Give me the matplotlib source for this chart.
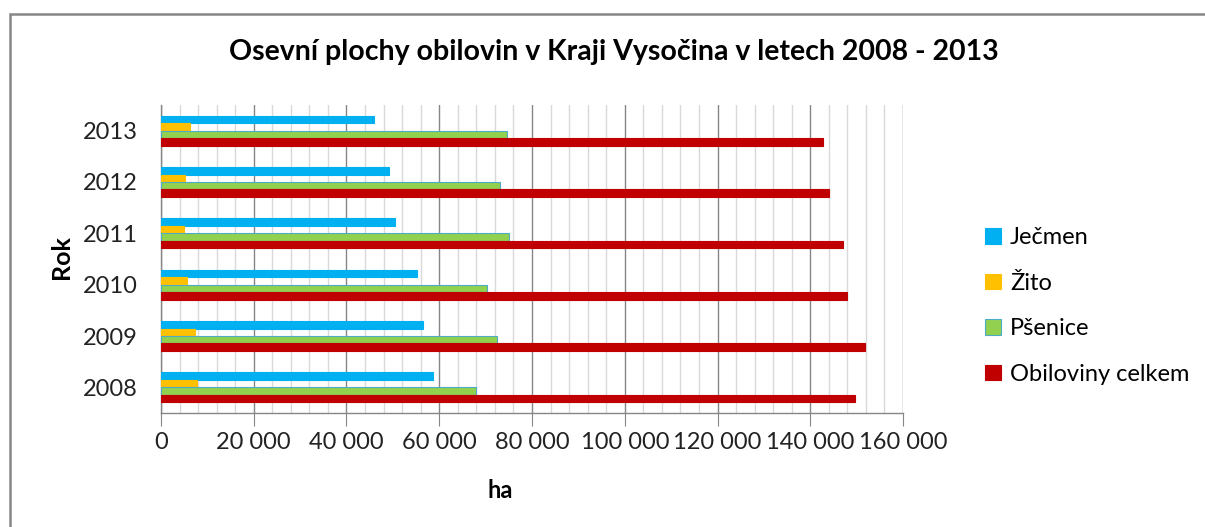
import matplotlib.pyplot as plt
import numpy as np
from matplotlib.patches import Rectangle
from matplotlib.ticker import FuncFormatter, MultipleLocator

plt.rcParams["font.family"] = ["Lato", "DejaVu Sans"]

years = ["2008", "2009", "2010", "2011", "2012", "2013"]
jecmen = [58600, 56500, 55100, 50500, 49100, 45900]
zito = [7700, 7300, 5700, 4900, 5200, 6300]
psenice = [68000, 72400, 70300, 75100, 73200, 74600]
celkem = [149600, 151900, 147900, 147000, 144000, 142700]

series = [
    ("Ječmen", jecmen, "#00B0F0", "#00B0F0"),
    ("Žito", zito, "#FFC000", "#FFC000"),
    ("Pšenice", psenice, "#92D050", "#4BACC6"),
    ("Obiloviny celkem", celkem, "#C00000", "#C00000"),
]

fig = plt.figure(figsize=(12.05, 5.27), dpi=100)
ax = fig.add_axes([0.1336, 0.2163, 0.6158, 0.5845])

# chart area frame
fig.patches.append(Rectangle((10 / 1205, -0.1), 1.2, (527 - 14) / 527 + 0.1,
                             transform=fig.transFigure, fill=False,
                             edgecolor="#868686", linewidth=1.8))

y = np.arange(len(years))
h = 0.145
offsets = [1.5 * h, 0.5 * h, -0.5 * h, -1.5 * h]
for (name, vals, color, edge), off in zip(series, offsets):
    ax.barh(y + off, vals, height=h, color=color, edgecolor=edge,
            linewidth=0.8, label=name, zorder=3)

ax.set_xlim(0, 160000)
ax.set_ylim(-0.5, len(years) - 0.5)
ax.set_yticks(y)
ax.set_yticklabels(years)

ax.xaxis.set_major_locator(MultipleLocator(20000))
ax.xaxis.set_minor_locator(MultipleLocator(4000))
ax.xaxis.set_major_formatter(FuncFormatter(lambda v, _: f"{int(v):,}".replace(",", " ")))
ax.grid(True, which="major", axis="x", color="#868686", linewidth=1.0, zorder=0)
ax.grid(True, which="minor", axis="x", color="#D9D9D9", linewidth=1.0, zorder=0)

for side in ("top", "right"):
    ax.spines[side].set_visible(False)
for side in ("left", "bottom"):
    ax.spines[side].set_color("#868686")
    ax.spines[side].set_linewidth(1.0)

ax.tick_params(axis="x", which="major", direction="out", length=9,
               color="#868686", labelsize=17, pad=5, labelcolor="#222222")
ax.tick_params(axis="x", which="minor", length=0)
ax.tick_params(axis="y", length=0, labelsize=17, pad=17, labelcolor="#222222")

ax.set_xlabel("ha", fontsize=17, fontweight="bold")
ax.xaxis.set_label_coords((500 - 161) / (903 - 161), -0.215)
ax.set_ylabel("Rok", fontsize=18, fontweight="bold")
ax.yaxis.set_label_coords((73 - 161) / (903 - 161), 1 - (257 - 105) / 308)

fig.text(614 / 1205, 1 - 52 / 527, "Osevní plochy obilovin v Kraji Vysočina v letech 2008 - 2013",
         ha="center", va="center", fontsize=20.5, fontweight="bold")

fig.legend(loc="center left", bbox_to_anchor=(964 / 1205, 1 - 306 / 527),
           frameon=False, fontsize=17, handlelength=0.65, handleheight=0.65,
           handletextpad=0.4, labelspacing=1.04)

fig.savefig("out.png", dpi=100)
